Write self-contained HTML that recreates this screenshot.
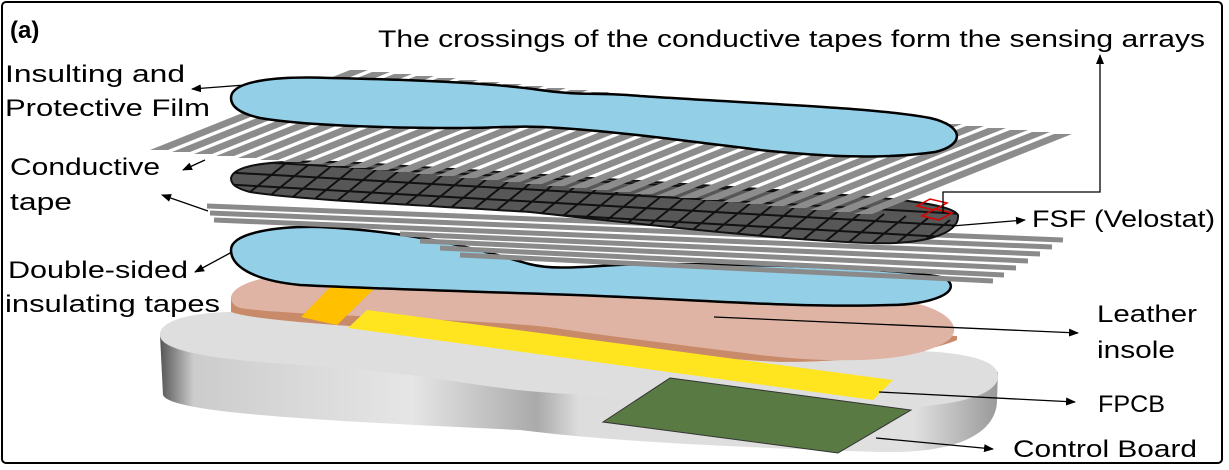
<!DOCTYPE html>
<html><head><meta charset="utf-8"><style>
html,body{margin:0;padding:0;background:#fff;}
svg{display:block;font-family:"Liberation Sans",sans-serif;}
</style></head><body>
<svg width="1229" height="470" viewBox="0 0 1229 470" xmlns="http://www.w3.org/2000/svg">
<defs>
<marker id="ah" markerWidth="10" markerHeight="8" refX="9" refY="4" orient="auto" markerUnits="userSpaceOnUse">
<path d="M0,0 L10,4 L0,8 Z" fill="#000"/></marker>
<linearGradient id="side" x1="0" x2="1" y1="0" y2="0">
<stop offset="0" stop-color="#555"/><stop offset="0.04" stop-color="#ccc"/><stop offset="0.3" stop-color="#e6e6e6"/><stop offset="0.45" stop-color="#aaa"/><stop offset="0.5" stop-color="#ddd"/><stop offset="0.9" stop-color="#e0e0e0"/><stop offset="1" stop-color="#999"/></linearGradient>
<clipPath id="gridclip"><path d="M231,178 C235,160 300,160 360,163 L700,185 C850,195 950,200 958,215 C960,235 920,245 870,243 C780,240 650,225 530,212 C420,205 300,200 250,192 C235,188 231,184 231,178 Z"/></clipPath>
</defs>
<rect x="2" y="2" width="1220" height="461" rx="4" fill="#fff" stroke="#000" stroke-width="2"/>

<!-- Tray -->
<path d="M160,335 L163,395 C170,412 300,420 520,430 C600,440 700,446 880,452 C960,454 997,432 997,400 L998,372 Z" fill="url(#side)"/>
<path d="M160,335 C160,318 200,310 260,312 C400,318 480,330 540,338 C600,346 700,345 900,350 C975,352 1000,362 998,378 C995,395 960,405 900,408 C800,410 650,400 540,392 C480,388 420,372 300,365 C220,360 160,352 160,335 Z" fill="#dedede"/>

<!-- Green control board -->
<polygon points="670,378 911,410 838,453 603,422" fill="#5a7a44" stroke="#333" stroke-width="1"/>

<!-- Leather insole side -->
<path d="M231,297 L231,312 C260,322 380,328 480,334 C520,336 540,338 555,340 C620,349 700,358 780,362 C860,362 930,352 957,340 L957,336 Z" fill="#c98a6a"/>
<path d="M231,297 C235,280 280,272 340,272 C500,280 700,290 900,300 C960,310 965,335 940,345 C900,365 820,362 760,355 C680,345 600,335 555,328 C540,326 520,324 480,322 C380,316 280,314 240,308 C232,305 231,300 231,297 Z" fill="#e0b4a4"/>

<!-- Orange -->
<polygon points="340,277 378,285 337,325 301,317" fill="#ffc000"/>
<!-- Yellow FPCB -->
<polygon points="367,310 893,380 873,400 348,328" fill="#ffe51f"/>

<!-- Lower blue film -->
<path d="M231,250 C231,232 280,226 320,227 C420,232 480,250 529,264 C560,272 600,264 650,264 C760,264 900,268 945,278 C965,292 930,305 890,305 C800,308 700,300 600,296 C500,292 400,290 300,285 C250,280 231,265 231,250 Z" fill="#93d0e8" stroke="#000" stroke-width="2.5"/>

<!-- Lower stripes -->
<g stroke="#8a8a8a" stroke-width="5" fill="none">
<line x1="207" y1="206" x2="1063" y2="240"/>
<line x1="210" y1="213" x2="1052" y2="247"/>
<line x1="214" y1="220" x2="1040" y2="254"/>
<line x1="400" y1="234" x2="1028" y2="261"/>
<line x1="420" y1="241" x2="1016" y2="268"/>
<line x1="440" y1="248" x2="1004" y2="275"/>
<line x1="460" y1="255" x2="993" y2="281"/>
</g>

<!-- Grid FSF -->
<g clip-path="url(#gridclip)">
<rect x="220" y="150" width="760" height="110" fill="#575757"/>
<g stroke="#111" stroke-width="2">
<line x1="220" y1="172" x2="980" y2="215"/>
<line x1="220" y1="184" x2="980" y2="227"/>
<line x1="220" y1="196" x2="980" y2="239"/>
<line x1="220" y1="208" x2="980" y2="251"/>
<line x1="220" y1="160" x2="980" y2="203"/>
</g>
<g stroke="#111" stroke-width="2">
<line x1="240" y1="200" x2="290" y2="160"/><line x1="262" y1="202" x2="312" y2="162"/><line x1="284" y1="204" x2="334" y2="164"/><line x1="306" y1="206" x2="356" y2="166"/><line x1="328" y1="208" x2="378" y2="168"/><line x1="350" y1="210" x2="400" y2="170"/><line x1="372" y1="212" x2="422" y2="172"/><line x1="394" y1="214" x2="444" y2="174"/><line x1="416" y1="216" x2="466" y2="176"/><line x1="438" y1="218" x2="488" y2="178"/><line x1="460" y1="220" x2="510" y2="180"/><line x1="482" y1="222" x2="532" y2="182"/><line x1="504" y1="224" x2="554" y2="184"/><line x1="526" y1="226" x2="576" y2="186"/><line x1="548" y1="228" x2="598" y2="188"/><line x1="570" y1="230" x2="620" y2="190"/><line x1="592" y1="232" x2="642" y2="192"/><line x1="614" y1="234" x2="664" y2="194"/><line x1="636" y1="236" x2="686" y2="196"/><line x1="658" y1="238" x2="708" y2="198"/><line x1="680" y1="240" x2="730" y2="200"/><line x1="702" y1="242" x2="752" y2="202"/><line x1="724" y1="244" x2="774" y2="204"/><line x1="746" y1="246" x2="796" y2="206"/><line x1="768" y1="248" x2="818" y2="208"/><line x1="790" y1="250" x2="840" y2="210"/><line x1="812" y1="252" x2="862" y2="212"/><line x1="834" y1="254" x2="884" y2="214"/><line x1="856" y1="256" x2="906" y2="216"/><line x1="878" y1="258" x2="928" y2="218"/><line x1="900" y1="260" x2="950" y2="220"/><line x1="922" y1="262" x2="972" y2="222"/>
</g>
</g>
<path d="M231,178 C235,160 300,160 360,163 L700,185 C850,195 950,200 958,215 C960,235 920,245 870,243 C780,240 650,225 530,212 C420,205 300,200 250,192 C235,188 231,184 231,178 Z" fill="none" stroke="#111" stroke-width="2"/>

<!-- Top stripes -->
<g fill="#8c8c8c">
<polygon points="150,150 168,150 368,70 350,70"/>
<polygon points="172,152 190,152 390,72 372,72"/>
<polygon points="194,154 212,154 412,74 394,74"/>
<polygon points="216,156 234,156 434,76 416,76"/>
<polygon points="238,158 256,158 456,78 438,78"/>
<polygon points="260,160 278,160 478,80 460,80"/>
<polygon points="282,162 300,162 500,82 482,82"/>
<polygon points="304,164 322,164 522,84 504,84"/>
<polygon points="326,166 344,166 544,86 526,86"/>
<polygon points="348,168 366,168 566,88 548,88"/>
<polygon points="370,170 388,170 588,90 570,90"/>
<polygon points="392,172 410,172 610,92 592,92"/>
<polygon points="414,174 432,174 632,94 614,94"/>
<polygon points="436,176 454,176 654,96 636,96"/>
<polygon points="458,178 476,178 676,98 658,98"/>
<polygon points="480,180 498,180 698,100 680,100"/>
<polygon points="502,182 520,182 720,102 702,102"/>
<polygon points="524,184 542,184 742,104 724,104"/>
<polygon points="546,186 564,186 764,106 746,106"/>
<polygon points="568,188 586,188 786,108 768,108"/>
<polygon points="590,190 608,190 808,110 790,110"/>
<polygon points="612,192 630,192 830,112 812,112"/>
<polygon points="634,194 652,194 852,114 834,114"/>
<polygon points="656,196 674,196 874,116 856,116"/>
<polygon points="678,198 696,198 896,118 878,118"/>
<polygon points="700,200 718,200 918,120 900,120"/>
<polygon points="722,202 740,202 940,122 922,122"/>
<polygon points="744,204 762,204 962,124 944,124"/>
<polygon points="766,206 784,206 984,126 966,126"/>
<polygon points="788,208 806,208 1006,128 988,128"/>
<polygon points="810,210 828,210 1028,130 1010,130"/>
<polygon points="832,212 850,212 1050,132 1032,132"/>
<polygon points="854,214 872,214 1072,134 1054,134"/>
</g>

<!-- Top blue film -->
<path d="M231,98 C231,80 280,76 330,78 C430,80 500,84 540,90 C580,96 600,92 640,96 C760,104 880,108 930,118 C965,126 965,145 935,152 C880,160 820,156 760,150 C680,140 620,132 560,128 C520,125 500,128 460,128 C380,128 300,125 260,118 C238,113 231,106 231,98 Z" fill="#93d0e8" stroke="#000" stroke-width="2.5"/>

<!-- red boxes -->
<polygon points="917,206 930,199 947,203 934,210" fill="none" stroke="#d00" stroke-width="1.5"/>
<polygon points="922,216 935,209 952,213 939,220" fill="none" stroke="#d00" stroke-width="1.5"/>

<!-- Connectors -->
<g stroke="#000" stroke-width="1.3" fill="none">
<line x1="245" y1="85" x2="192" y2="89" marker-end="url(#ah)"/>
<line x1="205" y1="160" x2="183" y2="170" marker-end="url(#ah)"/>
<line x1="208" y1="211" x2="162" y2="195" marker-end="url(#ah)"/>
<line x1="232" y1="252" x2="195" y2="272" marker-end="url(#ah)"/>
<polyline points="943,213 943,192 1100,192 1100,55" marker-end="url(#ah)"/>
<line x1="952" y1="226" x2="1025" y2="220" marker-end="url(#ah)"/>
<line x1="714" y1="317" x2="1078" y2="333" marker-end="url(#ah)"/>
<line x1="879" y1="392" x2="1075" y2="402" marker-end="url(#ah)"/>
<line x1="876" y1="438" x2="993" y2="449" marker-end="url(#ah)"/>
</g>

<!-- Labels -->
<g font-size="24" fill="#000">
<text x="10" y="38" font-weight="bold">(a)</text>
<text x="378" y="47" textLength="827" lengthAdjust="spacingAndGlyphs">The crossings of the conductive tapes form the sensing arrays</text>
<text x="5" y="82" textLength="180" lengthAdjust="spacingAndGlyphs">Insulting and</text>
<text x="5" y="116" textLength="205" lengthAdjust="spacingAndGlyphs">Protective Film</text>
<text x="10" y="175" textLength="150" lengthAdjust="spacingAndGlyphs">Conductive</text>
<text x="10" y="210" textLength="62" lengthAdjust="spacingAndGlyphs">tape</text>
<text x="8" y="278" textLength="180" lengthAdjust="spacingAndGlyphs">Double-sided</text>
<text x="5" y="312" textLength="215" lengthAdjust="spacingAndGlyphs">insulating tapes</text>
<text x="1032" y="227" textLength="183" lengthAdjust="spacingAndGlyphs">FSF (Velostat)</text>
<text x="1097" y="322" textLength="100" lengthAdjust="spacingAndGlyphs">Leather</text>
<text x="1097" y="358" textLength="78" lengthAdjust="spacingAndGlyphs">insole</text>
<text x="1098" y="412" textLength="67" lengthAdjust="spacingAndGlyphs">FPCB</text>
<text x="1013" y="457" textLength="184" lengthAdjust="spacingAndGlyphs">Control Board</text>
</g>
</svg>
</body></html>
